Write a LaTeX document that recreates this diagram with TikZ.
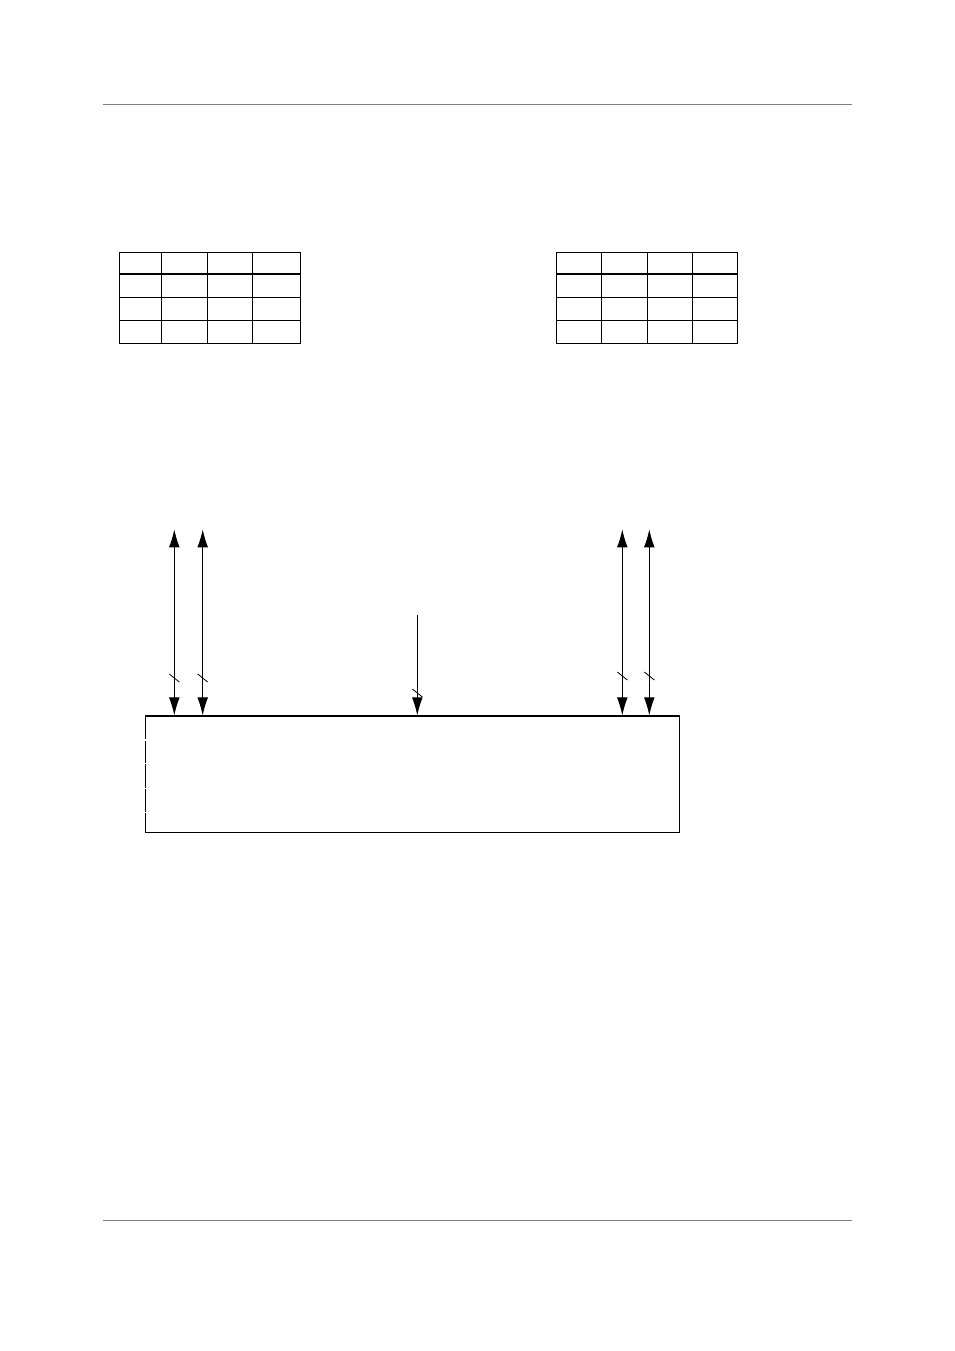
\documentclass[tikz,border=0pt]{standalone}
\usepackage{tikz}
\usetikzlibrary{arrows.meta,calc,positioning}
\begin{document}
\begin{tikzpicture}[x=0.75pt,y=-0.75pt,
  >={Latex[length=13.5pt,width=8pt]},
  busline/.style={line width=0.75pt},
  gridline/.style={line width=0.9pt}]
\useasboundingbox (0,0) rectangle (954,1351);
% page rules
\draw[gray, line width=0.8pt] (102.5,104.5) -- (851.7,104.5);
\draw[gray, line width=0.8pt] (102.5,1220.3) -- (851.7,1220.3);
% left table
\draw[gridline] (119.5,252.3) rectangle (300.3,343.3);
\draw[gridline] (161.3,252.3) -- (161.3,343.3);
\draw[gridline] (207.3,252.3) -- (207.3,343.3);
\draw[gridline] (252.7,252.3) -- (252.7,343.3);
\draw[gridline] (119.5,274) -- (300.3,274);
\draw[gridline] (119.5,297.3) -- (300.3,297.3);
\draw[gridline] (119.5,320.3) -- (300.3,320.3);
% right table
\draw[gridline] (556.3,252.3) rectangle (737.7,343.3);
\draw[gridline] (601.3,252.3) -- (601.3,343.3);
\draw[gridline] (647.3,252.3) -- (647.3,343.3);
\draw[gridline] (692.7,252.3) -- (692.7,343.3);
\draw[gridline] (556.3,274) -- (737.7,274);
\draw[gridline] (556.3,297.3) -- (737.7,297.3);
\draw[gridline] (556.3,320.3) -- (737.7,320.3);
% main block
\node[draw, line width=0.8pt, inner sep=0pt, minimum width=400.5pt,
  minimum height=87.2pt] (block) at (412.3,774.15) {};
\draw[white, line width=0.8pt] (143,740) -- (148,740);
\draw[white, line width=0.8pt] (143,763.3) -- (148,763.3);
\draw[white, line width=0.8pt] (143,788.3) -- (148,788.3);
\draw[white, line width=0.8pt] (143,812.7) -- (148,812.7);
% bus ends
\coordinate (busa) at (174.3,529.3);
\coordinate (busb) at (202.7,529.3);
\coordinate (busc) at (622.3,529.3);
\coordinate (busd) at (649.3,529.3);
\coordinate (ctrl) at (417.3,615);
% buses
\draw[busline,<->] (busa) -- (busa |- block.north);
\draw[busline,<->] (busb) -- (busb |- block.north);
\draw[busline,<->] (busc) -- (busc |- block.north);
\draw[busline,<->] (busd) -- (busd |- block.north);
\draw[busline,->] (ctrl) -- (ctrl |- block.north);
% width slashes
\draw[line width=0.6pt] (169.3,674) -- (179.3,682);
\draw[line width=0.6pt] (197.7,674) -- (207.7,682);
\draw[line width=0.6pt] (617.3,672) -- (627.3,680);
\draw[line width=0.6pt] (644.3,672) -- (654.3,680);
\draw[line width=0.6pt] (412.3,689) -- (422.3,697);
\end{tikzpicture}
\end{document}
